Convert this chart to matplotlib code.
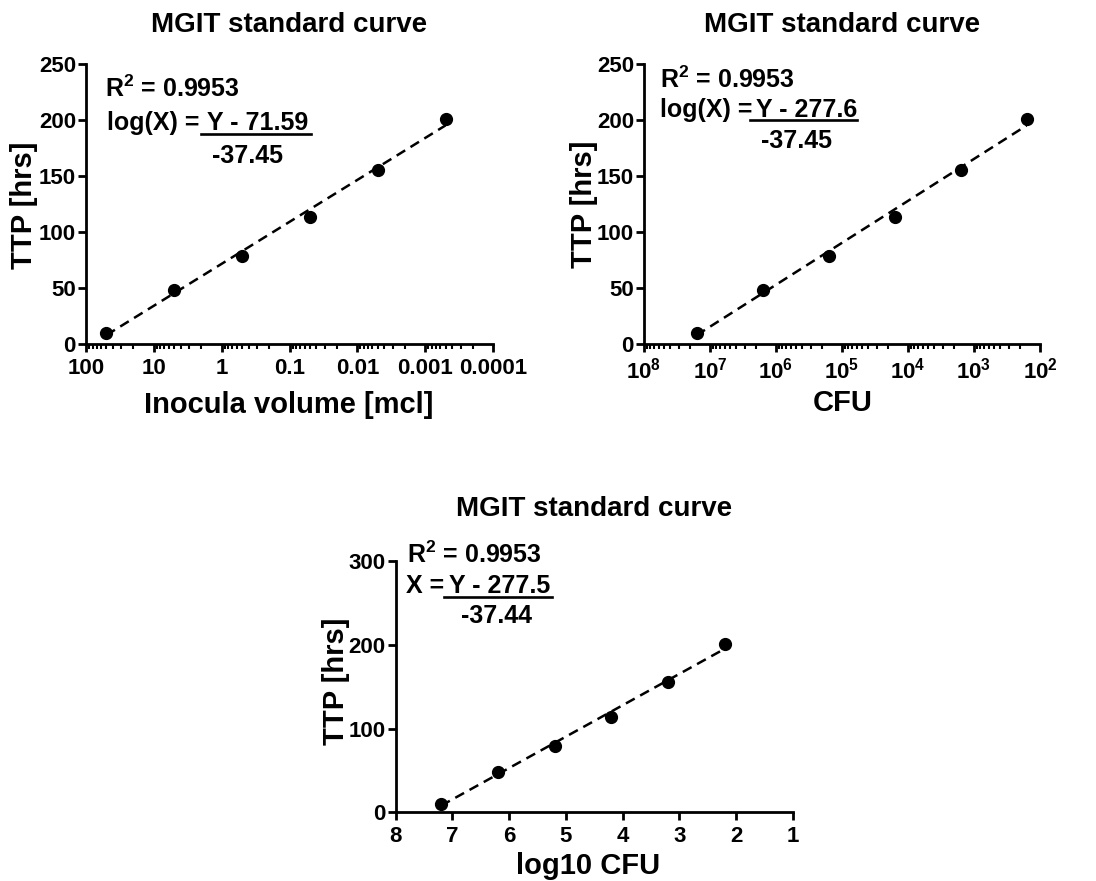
import matplotlib.pyplot as plt
import numpy as np
from matplotlib import ticker
from matplotlib.lines import Line2D


FIG_W, FIG_H = 1096, 881

TITLE = "MGIT standard curve"
Y_LABEL = "TTP [hrs]"

VOLUME_MCL = [50, 5, 0.5, 0.05, 0.005, 0.0005]
CFU = [1.6e7, 1.6e6, 1.6e5, 1.6e4, 1.6e3, 1.6e2]
LOG10_CFU = [7.2, 6.2, 5.2, 4.2, 3.2, 2.2]
TTP_HRS = [10, 48, 79, 113.5, 155, 201]

# intercept, slope of the fitted lines (Y = a + b * log(X))
FIT_VOLUME = (71.59, -37.45)
FIT_CFU = (277.6, -37.45)
FIT_LOG = (277.5, -37.44)
R_SQUARED = "0.9953"

VOLUME_TICKS = [100, 10, 1, 0.1, 0.01, 0.001, 0.0001]
VOLUME_TICK_LABELS = ["100", "10", "1", "0.1", "0.01", "0.001", "0.0001"]
CFU_TICKS = [1e8, 1e7, 1e6, 1e5, 1e4, 1e3, 1e2]
LOG_TICKS = [8, 7, 6, 5, 4, 3, 2, 1]


def px(x, y):
	# pixel position (from top left) -> figure fraction
	return x / FIG_W, 1 - y / FIG_H


def addAxes(fig, left, top, right, bottom):
	x0, y0 = px(left, bottom)
	x1, y1 = px(right, top)
	return fig.add_axes([x0, y0, x1 - x0, y1 - y0])


def styleAxes(ax):
	ax.spines["top"].set_visible(False)
	ax.spines["right"].set_visible(False)
	ax.spines["left"].set_linewidth(2)
	ax.spines["bottom"].set_linewidth(2)
	ax.tick_params(which="major", length=6, width=2, labelsize=16, pad=1.2)
	ax.tick_params(axis="x", which="major", pad=4)
	ax.tick_params(which="minor", length=3.5, width=1.5)


def drawData(ax, x_values, fit, log_x):
	ax.plot(x_values, TTP_HRS, "o", color="black", markersize=8.5, zorder=3, clip_on=False)
	x_ends = np.array([x_values[0], x_values[-1]], dtype=float)
	x_for_fit = np.log10(x_ends) if log_x else x_ends
	ax.plot(x_ends, fit[0] + fit[1] * x_for_fit, color="black", linewidth=1.8,
		linestyle=(0, (4, 2.5)), zorder=2)


def drawEquation(fig, lhs, numerator, denominator, r2_pos, lhs_pos, num_pos, bar, den_pos):
	size = 18
	fig.text(*px(*r2_pos), f"R$^2$ = {R_SQUARED}", fontsize=size, va="baseline", ha="left")
	fig.text(*px(*lhs_pos), lhs, fontsize=size, va="baseline", ha="left")
	fig.text(*px(*num_pos), numerator, fontsize=size, va="baseline", ha="left")
	fig.text(*px(*den_pos), denominator, fontsize=size, va="baseline", ha="left")
	(bx0, by), (bx1, _) = px(bar[0], bar[2]), px(bar[1], bar[2])
	fig.add_artist(Line2D([bx0, bx1], [by, by], color="black", linewidth=1.9))


def main():
	plt.rcParams["font.family"] = ["Liberation Sans", "DejaVu Sans"]
	plt.rcParams["font.weight"] = "bold"
	plt.rcParams["mathtext.fontset"] = "custom"
	plt.rcParams["mathtext.rm"] = "Liberation Sans:bold"
	plt.rcParams["mathtext.it"] = "Liberation Sans:bold"
	plt.rcParams["mathtext.bf"] = "Liberation Sans:bold"
	plt.rcParams["mathtext.sf"] = "Liberation Sans:bold"
	plt.rcParams["mathtext.default"] = "rm"

	fig = plt.figure(figsize=(FIG_W / 100, FIG_H / 100), dpi=100)

	# panel 1: inocula volume
	ax1 = addAxes(fig, 86, 64, 493, 344)
	ax1.set_xscale("log")
	drawData(ax1, VOLUME_MCL, FIT_VOLUME, True)
	ax1.set_xlim(100, 0.0001)
	ax1.set_ylim(0, 250)
	ax1.set_xticks(VOLUME_TICKS)
	ax1.set_xticklabels(VOLUME_TICK_LABELS)
	ax1.xaxis.set_minor_locator(ticker.LogLocator(base=10, subs=np.arange(2, 10), numticks=20))
	ax1.xaxis.set_minor_formatter(ticker.NullFormatter())
	ax1.set_yticks([0, 50, 100, 150, 200, 250])
	styleAxes(ax1)

	# panel 2: CFU
	ax2 = addAxes(fig, 644, 64, 1040, 344)
	ax2.set_xscale("log")
	drawData(ax2, CFU, FIT_CFU, True)
	ax2.set_xlim(1e8, 1e2)
	ax2.set_ylim(0, 250)
	ax2.set_xticks(CFU_TICKS)
	ax2.xaxis.set_major_formatter(ticker.LogFormatterMathtext())
	ax2.xaxis.set_minor_locator(ticker.LogLocator(base=10, subs=np.arange(2, 10), numticks=20))
	ax2.xaxis.set_minor_formatter(ticker.NullFormatter())
	ax2.set_yticks([0, 50, 100, 150, 200, 250])
	styleAxes(ax2)

	# panel 3: log10 CFU
	ax3 = addAxes(fig, 395.7, 561, 792.7, 812.3)
	drawData(ax3, LOG10_CFU, FIT_LOG, False)
	ax3.set_xlim(8, 1)
	ax3.set_ylim(0, 300)
	ax3.set_xticks(LOG_TICKS)
	ax3.set_yticks([0, 100, 200, 300])
	styleAxes(ax3)

	# titles and axis labels
	title_size = 20
	label_size = 21
	fig.text(*px(289.5, 32), TITLE, fontsize=title_size, ha="center", va="baseline")
	fig.text(*px(842, 32), TITLE, fontsize=title_size, ha="center", va="baseline")
	fig.text(*px(594, 516), TITLE, fontsize=title_size, ha="center", va="baseline")

	fig.text(*px(289, 413), "Inocula volume [mcl]", fontsize=label_size, ha="center", va="baseline")
	fig.text(*px(842.5, 411), "CFU", fontsize=label_size, ha="center", va="baseline")
	fig.text(*px(588, 874), "log10 CFU", fontsize=label_size, ha="center", va="baseline")

	fig.text(*px(23.5, 205), Y_LABEL, fontsize=label_size, rotation=90, ha="center", va="center")
	fig.text(*px(584, 204), Y_LABEL, fontsize=label_size, rotation=90, ha="center", va="center")
	fig.text(*px(336, 681), Y_LABEL, fontsize=label_size, rotation=90, ha="center", va="center")

	# fit equations
	drawEquation(fig, "log(X) =", f"Y - {FIT_VOLUME[0]}", f"{FIT_VOLUME[1]}",
		(105, 96.7), (107.3, 130), (207, 130), (201, 311, 134.3), (212, 162.7))
	drawEquation(fig, "log(X) =", f"Y - {FIT_CFU[0]}", f"{FIT_CFU[1]}",
		(660, 87.7), (660, 116.7), (756, 116.7), (750, 857, 120), (760.7, 148.3))
	drawEquation(fig, "X =", f"Y - {FIT_LOG[0]}", f"{FIT_LOG[1]}",
		(407.3, 563.3), (406, 593.3), (449, 593.3), (444, 552, 597.3), (460.7, 623.3))

	fig.savefig("out.png", dpi=100)
	plt.close(fig)


if __name__ == "__main__":
	main()
